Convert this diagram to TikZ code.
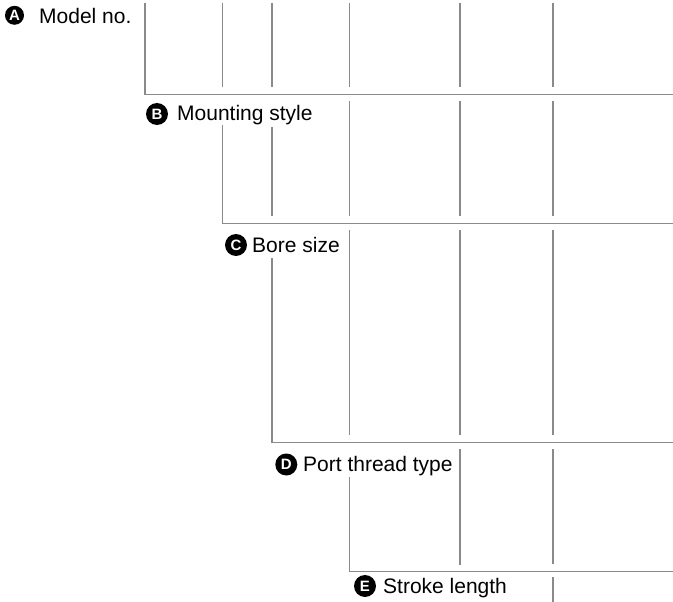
\documentclass[tikz,border=0pt]{standalone}
\usepackage{fontspec}
\setmainfont{Liberation Sans}
\usepackage{xcolor}
\usepackage{tikz}
\definecolor{RuleGray}{RGB}{138,138,138}
\definecolor{TagBlack}{RGB}{0,0,0}

\begin{document}
\begin{tikzpicture}[x=1pt, y=-1pt,
  tag/.style={circle, fill=TagBlack, text=white, minimum size=22pt, inner sep=0pt, font=\fontsize{15}{15}\selectfont\bfseries},
  lbl/.style={anchor=base west, inner sep=0pt, font=\fontsize{21}{25}\selectfont},
  rule/.style={draw=RuleGray, line width=1.5pt}]
  \useasboundingbox (0,0) rectangle (673,602);
  % lettered tags and their labels
  \node[tag, minimum size=19pt] (tagA) at (14.5,15.3) {A};
  \node[lbl] (lblA) at (39,23.3) {Model no.};
  \node[tag] (tagB) at (157,114) {B};
  \node[lbl] (lblB) at (177,120.7) {Mounting style};
  \node[tag] (tagC) at (236,245) {C};
  \node[lbl] (lblC) at (252,252) {Bore size};
  \node[tag] (tagD) at (286.3,464.5) {D};
  \node[lbl] (lblD) at (303,471) {Port thread type};
  \node[tag] (tagE) at (365,586) {E};
  \node[lbl] (lblE) at (383,593.5) {Stroke length};
  % step lines
  \draw[rule] (145,3) -- (145,94.7) -- (673,94.7);
  \draw[rule] (222.5,3) -- (222.5,87);
  \draw[rule] (222.5,125) -- (222.5,223.3) -- (673,223.3);
  \draw[rule] (272,3) -- (272,87);
  \draw[rule] (272,127) -- (272,216);
  \draw[rule] (272,258) -- (272,442.5) -- (673,442.5);
  \draw[rule] (349.3,3) -- (349.3,87);
  \draw[rule] (349.3,101) -- (349.3,216);
  \draw[rule] (349.3,230) -- (349.3,435);
  \draw[rule] (349.3,477) -- (349.3,571.7) -- (673,571.7);
  \draw[rule] (460,3) -- (460,87);
  \draw[rule] (460,101) -- (460,216);
  \draw[rule] (460,230) -- (460,435);
  \draw[rule] (460,449) -- (460,565);
  \draw[rule] (553,3) -- (553,87);
  \draw[rule] (553,101) -- (553,216);
  \draw[rule] (553,230) -- (553,435);
  \draw[rule] (553,449) -- (553,564);
  \draw[rule] (553,577) -- (553,602);
\end{tikzpicture}
\end{document}
